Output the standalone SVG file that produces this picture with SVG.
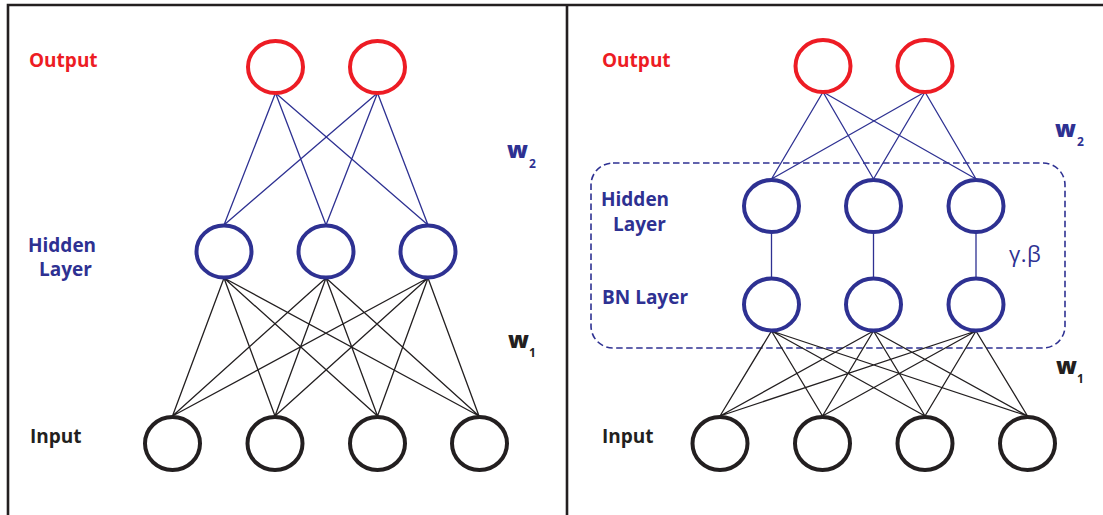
<svg xmlns="http://www.w3.org/2000/svg" width="1103" height="515" viewBox="0 0 1103 515">
<style>
.frame{stroke:#231f20;stroke-width:2.6;fill:none}
.out{fill:#fff;stroke:#ed1c24;stroke-width:4}
.hid{fill:#fff;stroke:#2e3192;stroke-width:4}
.inp{fill:#fff;stroke:#231f20;stroke-width:4}
.cb{stroke:#2e3192;stroke-width:1.3;fill:none}
.ck{stroke:#231f20;stroke-width:1.3;fill:none}
.box{fill:none;stroke:#2e3192;stroke-width:1.6;stroke-dasharray:6.5 3.5}
.lbl{font-family:"Open Sans","Liberation Sans",sans-serif;font-weight:700;font-size:19px}
.red{fill:#ed1c24}
.blue{fill:#2e3192}
.blk{fill:#231f20}
.w{font-family:"Open Sans","Liberation Sans",sans-serif;font-weight:800;font-size:23px}
.sub{font-size:12px;font-weight:700}
.gb{font-family:"Open Sans","Liberation Sans",sans-serif;font-size:22px;fill:#2e3192;letter-spacing:0.5px}
</style>
<rect width="1103" height="515" fill="#fff"/>
<g id="frame">
<path class="frame" d="M8 515 V5 H1103"/>
<line class="frame" x1="567" y1="5" x2="567" y2="515"/>
</g>
<rect id="bn-box" class="box" x="591" y="163" width="474" height="185" rx="22" ry="22"/>
<g id="connectors">
<path class="cb" d="M275.5 93 L224 225 M275.5 93 L326 225 M275.5 93 L428 225 M377.5 93 L224 225 M377.5 93 L326 225 M377.5 93 L428 225"/>
<path class="ck" d="M224 278 L172.5 416 M224 278 L275 416 M224 278 L377.5 416 M224 278 L479 416 M326 278 L172.5 416 M326 278 L275 416 M326 278 L377.5 416 M326 278 L479 416 M428 278 L172.5 416 M428 278 L275 416 M428 278 L377.5 416 M428 278 L479 416"/>
<path class="cb" d="M823 92 L771.5 179 M823 92 L873.5 179 M823 92 L976 179 M925 92 L771.5 179 M925 92 L873.5 179 M925 92 L976 179"/>
<path class="cb" d="M771.5 232 V279 M873.5 232 V279 M976 232 V279"/>
<path class="ck" d="M771.5 331 L720 416 M771.5 331 L822.5 416 M771.5 331 L925 416 M771.5 331 L1027.5 416 M873.5 331 L720 416 M873.5 331 L822.5 416 M873.5 331 L925 416 M873.5 331 L1027.5 416 M976 331 L720 416 M976 331 L822.5 416 M976 331 L925 416 M976 331 L1027.5 416"/>
</g>
<g id="L-out1"><ellipse class="out" cx="275.5" cy="67" rx="27.5" ry="26"/></g>
<g id="L-out2"><ellipse class="out" cx="377.5" cy="67" rx="27.5" ry="26"/></g>
<g id="L-hid1"><ellipse class="hid" cx="224" cy="251.5" rx="27.5" ry="26"/></g>
<g id="L-hid2"><ellipse class="hid" cx="326" cy="251.5" rx="27.5" ry="26"/></g>
<g id="L-hid3"><ellipse class="hid" cx="428" cy="251.5" rx="27.5" ry="26"/></g>
<g id="L-in1"><ellipse class="inp" cx="172.5" cy="443.5" rx="27.5" ry="26.5"/></g>
<g id="L-in2"><ellipse class="inp" cx="275" cy="443.5" rx="27.5" ry="26.5"/></g>
<g id="L-in3"><ellipse class="inp" cx="377.5" cy="443.5" rx="27.5" ry="26.5"/></g>
<g id="L-in4"><ellipse class="inp" cx="479.5" cy="443.5" rx="27.5" ry="26.5"/></g>
<g id="R-out1"><ellipse class="out" cx="823" cy="66" rx="27.5" ry="26"/></g>
<g id="R-out2"><ellipse class="out" cx="925" cy="66" rx="27.5" ry="26"/></g>
<g id="R-hid1"><ellipse class="hid" cx="771.5" cy="206" rx="27.5" ry="26"/></g>
<g id="R-hid2"><ellipse class="hid" cx="873.5" cy="206" rx="27.5" ry="26"/></g>
<g id="R-hid3"><ellipse class="hid" cx="976" cy="206" rx="27.5" ry="26"/></g>
<g id="R-bn1"><ellipse class="hid" cx="771.5" cy="304.5" rx="27.5" ry="26"/></g>
<g id="R-bn2"><ellipse class="hid" cx="873.5" cy="304.5" rx="27.5" ry="26"/></g>
<g id="R-bn3"><ellipse class="hid" cx="976" cy="304.5" rx="27.5" ry="26"/></g>
<g id="R-in1"><ellipse class="inp" cx="720" cy="443.5" rx="27.5" ry="26.5"/></g>
<g id="R-in2"><ellipse class="inp" cx="822.5" cy="443.5" rx="27.5" ry="26.5"/></g>
<g id="R-in3"><ellipse class="inp" cx="925" cy="443.5" rx="27.5" ry="26.5"/></g>
<g id="R-in4"><ellipse class="inp" cx="1027.5" cy="443.5" rx="27.5" ry="26.5"/></g>
<g id="labels">
<text class="lbl red" x="29" y="67">Output</text>
<text class="lbl blue" x="28" y="252">Hidden</text>
<text class="lbl blue" x="39" y="276">Layer</text>
<text class="lbl blk" x="30" y="443">Input</text>
<text class="w blue"><tspan x="507" y="158">w</tspan><tspan class="sub" x="529" y="168">2</tspan></text>
<text class="w blk"><tspan x="508" y="348">w</tspan><tspan class="sub" x="529" y="357">1</tspan></text>
<text class="lbl red" x="602" y="67">Output</text>
<text class="lbl blue" x="601" y="206">Hidden</text>
<text class="lbl blue" x="613" y="231">Layer</text>
<text class="lbl blue" x="602" y="304">BN Layer</text>
<text class="lbl blk" x="602" y="443">Input</text>
<text class="w blue"><tspan x="1055" y="137">w</tspan><tspan class="sub" x="1077" y="146">2</tspan></text>
<text class="w blk"><tspan x="1056" y="374">w</tspan><tspan class="sub" x="1077" y="383">1</tspan></text>
<text class="gb" x="1009" y="262">γ.β</text>
</g>
</svg>
